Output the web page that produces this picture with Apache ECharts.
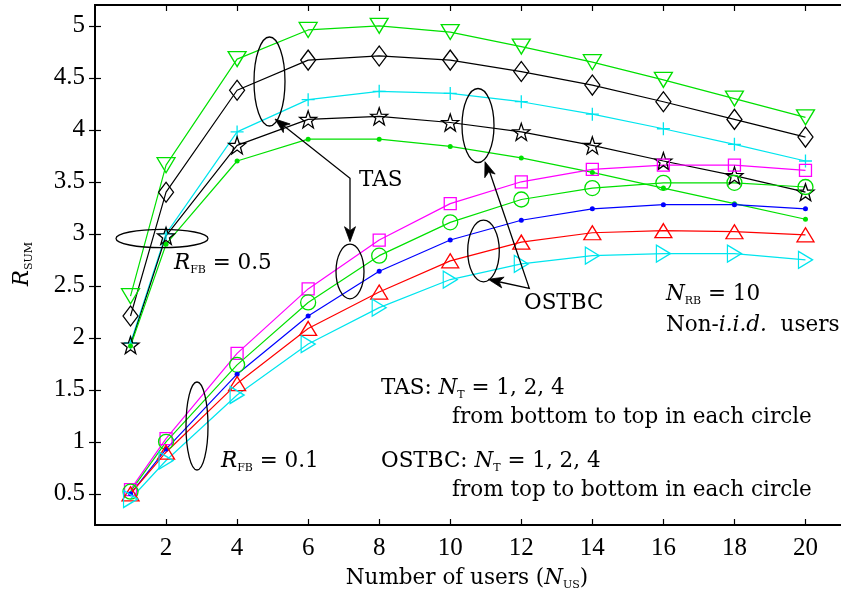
<!DOCTYPE html>
<html><head><meta charset="utf-8">
<script src="https://cdn.jsdelivr.net/npm/echarts@6/dist/echarts.min.js"></script>
<style>html,body{margin:0;padding:0;background:#fff}#c{width:841px;height:600px}</style>
</head><body><div id="c"></div>
<script>
// ---- data ----
const users = [1, 2, 4, 6, 8, 10, 12, 14, 16, 18, 20];
// R_FB = 0.5 group
const tasTriDown  = [2.40, 3.66, 4.68, 4.96, 5.00, 4.94, 4.80, 4.65, 4.48, 4.30, 4.12];
const tasDiamond  = [2.21, 3.40, 4.38, 4.67, 4.71, 4.67, 4.56, 4.43, 4.27, 4.10, 3.93];
const tasPlus     = [1.95, 3.00, 3.98, 4.29, 4.37, 4.35, 4.27, 4.15, 4.01, 3.86, 3.70];
const tasStar     = [1.93, 2.98, 3.85, 4.10, 4.13, 4.07, 3.98, 3.85, 3.70, 3.56, 3.40];
const tasDot      = [1.92, 2.90, 3.70, 3.91, 3.91, 3.84, 3.73, 3.59, 3.44, 3.29, 3.14];
// R_FB = 0.1 group
const ostSquare   = [0.54, 1.03, 1.85, 2.47, 2.94, 3.29, 3.50, 3.62, 3.66, 3.66, 3.61];
const ostCircle   = [0.52, 1.00, 1.74, 2.34, 2.79, 3.11, 3.33, 3.44, 3.49, 3.49, 3.45];
const ostDot      = [0.50, 0.93, 1.65, 2.21, 2.64, 2.94, 3.13, 3.24, 3.28, 3.28, 3.24];
const ostTriUp    = [0.50, 0.90, 1.56, 2.09, 2.44, 2.74, 2.92, 3.01, 3.03, 3.02, 2.99];
const ostTriRight = [0.45, 0.82, 1.45, 1.94, 2.29, 2.56, 2.71, 2.79, 2.81, 2.81, 2.75];
const xTicks = [2, 4, 6, 8, 10, 12, 14, 16, 18, 20];
const yTicks = [0.5, 1, 1.5, 2, 2.5, 3, 3.5, 4, 4.5, 5];

// ---- styling ----
const FONT = 'Liberation Serif';
const AFONT = 'DejaVu Serif';
const AS = 21.5;
const STAR = 'path://M0,-10L2.35,-3.24L9.51,-3.09L3.8,1.24L5.88,8.09L0,4L-5.88,8.09L-3.8,1.24L-9.51,-3.09L-2.35,-3.24Z';
const PLUS = 'path://M0,-10L0,10M-10,0L10,0';

function pts(arr) { return users.map((u, i) => [u, arr[i]]); }
function ser(arr, color, symbol, size, rotate, filled) {
  return {
    type: 'line', data: pts(arr), symbol: symbol, symbolSize: size, symbolRotate: rotate || 0,
    showAllSymbol: true, animation: false, z: 3,
    lineStyle: { color: color, width: 1.2 },
    itemStyle: filled ? { color: color, borderWidth: 0 } : { color: 'rgba(0,0,0,0)', borderColor: color, borderWidth: 1.3 }
  };
}

const chart = echarts.init(document.getElementById('c'), null, { renderer: 'canvas' });

const axisCommon = {
  axisLine: { show: true, lineStyle: { color: '#000', width: 2 } },
  splitLine: { show: false }
};

function arrowHead(tx, ty, fx, fy) {
  const L = 15, W = 5.5, N = 4;
  const dx = tx - fx, dy = ty - fy, len = Math.hypot(dx, dy);
  const ux = dx / len, uy = dy / len, px = -uy, py = ux;
  const bx = tx - ux * L, by = ty - uy * L;
  return {
    type: 'polygon', z: 10,
    shape: { points: [[tx, ty], [bx + px * W, by + py * W], [tx - ux * (L - N), ty - uy * (L - N)], [bx - px * W, by - py * W]] },
    style: { fill: '#000', stroke: '#000', lineWidth: 0.8 }
  };
}
function ell(cx, cy, rx, ry) {
  return { type: 'ellipse', z: 10, shape: { cx, cy, rx, ry }, style: { fill: 'none', stroke: '#000', lineWidth: 1.3 } };
}
function line(points) {
  return { type: 'polyline', z: 10, shape: { points }, style: { fill: 'none', stroke: '#000', lineWidth: 1.3 } };
}
const RICH = {
  n: { fontFamily: AFONT, fontSize: AS, lineHeight: 26, verticalAlign: 'middle', color: '#000' },
  i: { fontFamily: AFONT, fontSize: AS, lineHeight: 26, fontStyle: 'italic', verticalAlign: 'middle', color: '#000' },
  s: { fontFamily: AFONT, fontSize: 11, lineHeight: 11, verticalAlign: 'bottom', color: '#000' }
};
function txt(x, y, text, align, extra) {
  return Object.assign({
    type: 'text', z: 11, x, y,
    style: { text, rich: RICH, font: AS + 'px ' + AFONT, fill: '#000', align: align || 'left', verticalAlign: 'middle' }
  }, extra || {});
}

chart.setOption({
  animation: false,
  backgroundColor: '#fff',
  grid: { left: 95, top: 5, width: 748, height: 520, containLabel: false },
  xAxis: [
    Object.assign({
      type: 'value', min: 0, max: 21, position: 'bottom',
      axisTick: { show: true, inside: true, length: 6, customValues: xTicks, lineStyle: { color: '#000', width: 1.2 } },
      axisLabel: { customValues: xTicks, margin: 11, fontFamily: FONT, fontSize: 25, color: '#000' }
    }, axisCommon),
    Object.assign({
      type: 'value', min: 0, max: 21, position: 'top',
      axisTick: { show: true, inside: true, length: 6, customValues: xTicks, lineStyle: { color: '#000', width: 1.2 } },
      axisLabel: { show: false }
    }, axisCommon)
  ],
  yAxis: [
    Object.assign({
      type: 'value', min: 0.2, max: 5.2, position: 'left',
      axisTick: { show: true, inside: true, length: 6, customValues: yTicks, lineStyle: { color: '#000', width: 1.2 } },
      axisLabel: { customValues: yTicks, margin: 10, fontFamily: FONT, fontSize: 25, color: '#000', formatter: v => String(v) }
    }, axisCommon),
    Object.assign({
      type: 'value', min: 0.2, max: 5.2, position: 'right',
      axisTick: { show: true, inside: true, length: 6, customValues: yTicks, lineStyle: { color: '#000', width: 1.2 } },
      axisLabel: { show: false }
    }, axisCommon)
  ],
  series: [
    ser(tasTriDown, '#00e000', 'triangle', [18, 15], 180),
    ser(tasDiamond, '#000000', 'diamond', [15, 20]),
    ser(tasPlus, '#00e5ee', PLUS, 13),
    ser(tasStar, '#000000', STAR, 17),
    ser(tasDot, '#00e000', 'circle', 5, 0, true),
    ser(ostSquare, '#ff00ff', 'rect', 12),
    ser(ostCircle, '#00e000', 'circle', 15),
    ser(ostDot, '#0000ff', 'circle', 5, 0, true),
    ser(ostTriUp, '#ff0000', 'triangle', [17, 14]),
    ser(ostTriRight, '#00e5ee', 'triangle', [17, 14], -90)
  ],
  graphic: [
    ell(269.5, 81.5, 15.5, 44.5),
    ell(478, 125.5, 16, 37),
    ell(162, 238.5, 46, 9.2),
    ell(350, 271.5, 14, 27.3),
    ell(483.5, 251, 15.8, 30.8),
    ell(197, 426, 11, 44),
    line([[279, 122], [350, 178.3], [350, 236]]),
    arrowHead(275, 119, 350, 178.3),
    arrowHead(350, 241.7, 350, 178.3),
    line([[488, 167], [529.3, 288.3], [493, 280.5]]),
    arrowHead(485, 161.7, 529.3, 288.3),
    arrowHead(488.3, 279.3, 529.3, 288.3),
    txt(359, 180, '{n|TAS}'),
    txt(174, 263, '{i|R}{s|FB}{n| = 0.5}'),
    txt(221, 461, '{i|R}{s|FB}{n| = 0.1}'),
    txt(524, 303, '{n|OSTBC}'),
    txt(666, 294, '{i|N}{s|RB}{n| = 10}'),
    txt(666, 325, '{n|Non-}{i|i.i.d.}{n|  users}'),
    txt(381, 388, '{n|TAS: }{i|N}{s|T}{n| = 1, 2, 4}'),
    txt(452, 417, '{n|from bottom to top in each circle}'),
    txt(381, 461, '{n|OSTBC: }{i|N}{s|T}{n| = 1, 2, 4}'),
    txt(452, 490, '{n|from top to bottom in each circle}'),
    txt(467, 578, '{n|Number of users (}{i|N}{s|US}{n|)}', 'center'),
    txt(22, 264, '{i|R}{s|SUM}', 'center', { rotation: Math.PI / 2 })
  ]
});
</script>
</body></html>
